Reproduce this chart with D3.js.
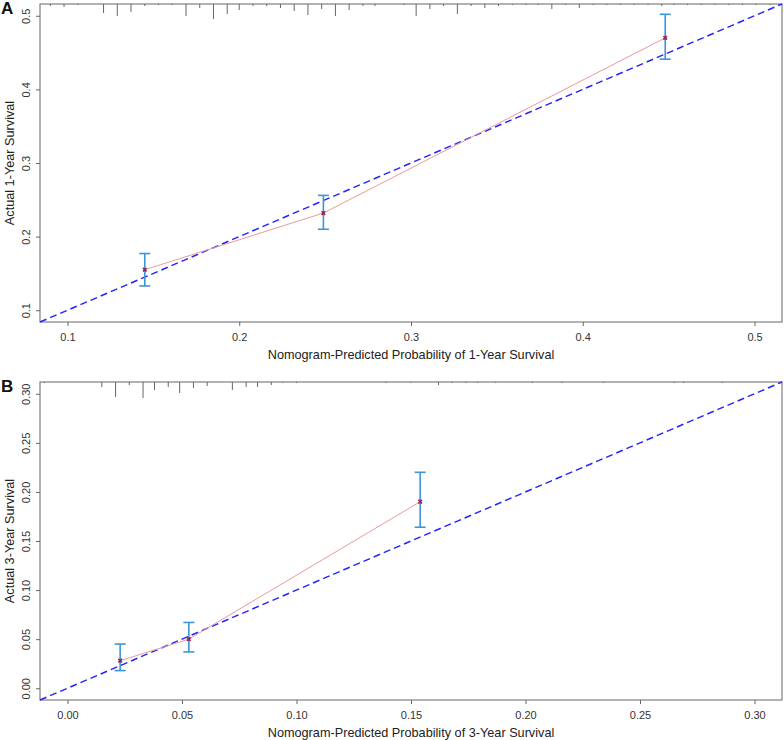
<!DOCTYPE html>
<html>
<head>
<meta charset="utf-8">
<script src="https://cdn.jsdelivr.net/npm/d3@7"></script>
<style>
  body { margin: 0; background: #fff; }
  svg { font-family: "Liberation Sans", Arial, sans-serif; }
</style>
</head>
<body>
<svg id="chart" width="784" height="740"></svg>
<script>
// Panel A: 1-year calibration
const predA = [0.145, 0.249, 0.448];
const obsA = [0.155, 0.232, 0.470];
const lowerA = [0.133, 0.210, 0.441];
const upperA = [0.177, 0.256, 0.502];
const ticksA = [0.1, 0.2, 0.3, 0.4, 0.5];
const limA = [0.1, 0.5];
const rugXA = [0.090, 0.098, 0.106, 0.121, 0.129, 0.137, 0.145, 0.153, 0.161, 0.169, 0.177, 0.185,
  0.193, 0.200, 0.208, 0.216, 0.224, 0.232, 0.240, 0.248, 0.256, 0.264, 0.272, 0.279, 0.296,
  0.303, 0.311, 0.319, 0.327, 0.335, 0.343, 0.351, 0.359, 0.367, 0.374, 0.382, 0.390, 0.398,
  0.406, 0.414, 0.422, 0.430, 0.438, 0.446, 0.453, 0.461, 0.469, 0.477, 0.485, 0.493, 0.501, 0.509];
const rugFreqA = [2, 3, 1, 9, 12, 8, 2, 1, 1, 12, 4, 15,
  10, 6, 2, 2, 4, 7, 11, 5, 12, 6, 2, 2, 1,
  12, 5, 2, 10, 2, 4, 2, 1, 1, 1, 5, 1, 4,
  1, 1, 1, 1, 1, 2, 1, 1, 1, 1, 1, 1, 1, 1];

// Panel B: 3-year calibration
const predB = [0.023, 0.053, 0.154];
const obsB = [0.028, 0.050, 0.190];
const lowerB = [0.018, 0.037, 0.164];
const upperB = [0.045, 0.067, 0.220];
const ticksB = [0.00, 0.05, 0.10, 0.15, 0.20, 0.25, 0.30];
const limB = [0.0, 0.3];
const rugXB = [-0.010, 0.015, 0.021, 0.027, 0.033, 0.038, 0.044, 0.049, 0.055, 0.061, 0.072, 0.078,
  0.083, 0.089, 0.094, 0.100, 0.139, 0.150, 0.162, 0.168, 0.174, 0.179, 0.187, 0.203, 0.216,
  0.234, 0.265, 0.269, 0.286];
const rugFreqB = [1, 5, 15, 3, 16, 8, 5, 11, 6, 4, 8, 5,
  5, 3, 1, 1, 1, 1, 3, 1, 1, 1, 1, 1, 1,
  1, 1, 1, 1];

class CalPlot {

    constructor( config, data ){
	this.config = {
	    parent: config.parent,
	    left: config.left,
	    top: config.top,
	    width: config.width,
	    height: config.height,
	    tag: config.tag,
	    xlabel: config.xlabel,
	    ylabel: config.ylabel,
	    fmt: config.fmt
	}
	this.data = data;
	this.init();
    }

    init() {
	let self = this;

	// R style axis: 4% extension on each side
	let lim = self.data.lim;
	let ext = (lim[1] - lim[0]) * 0.04;
	self.domain = [lim[0] - ext, lim[1] + ext];

	self.g = self.config.parent.append('g')
	    .attr('transform', `translate(${self.config.left}, ${self.config.top})`);

	self.xscale = d3.scaleLinear()
	    .domain(self.domain)
	    .range([0, self.config.width]);

	self.yscale = d3.scaleLinear()
	    .domain(self.domain)
	    .range([self.config.height, 0]);

	self.rugscale = d3.scaleLinear()
	    .domain([0, 16])
	    .range([0, 16]);

	self.xaxis = d3.axisBottom(self.xscale)
	    .tickValues(self.data.ticks)
	    .tickFormat(d3.format(self.config.fmt))
	    .tickSize(4)
	    .tickSizeOuter(0);

	self.yaxis = d3.axisLeft(self.yscale)
	    .tickValues(self.data.ticks)
	    .tickFormat(d3.format(self.config.fmt))
	    .tickSize(4)
	    .tickSizeOuter(0);
    }

    render() {
	let self = this;
	let W = self.config.width, H = self.config.height;

	// x axis
	let xg = self.g.append('g')
	    .attr('transform', `translate(0, ${H})`)
	    .call(self.xaxis);
	xg.select('.domain').remove();
	xg.selectAll('line').attr('stroke', '#666');
	xg.selectAll('text')
	    .attr('y', 19)
	    .attr('dy', 0)
	    .attr('fill', '#333')
	    .attr('font-size', 11)
	    .attr('font-family', '"Liberation Sans", Arial, sans-serif');

	// y axis, labels rotated
	let yg = self.g.append('g')
	    .call(self.yaxis);
	yg.select('.domain').remove();
	yg.selectAll('line').attr('stroke', '#666');
	yg.selectAll('text')
	    .attr('transform', 'rotate(-90)')
	    .attr('x', 0)
	    .attr('y', -10)
	    .attr('dy', 0)
	    .attr('text-anchor', 'middle')
	    .attr('fill', '#333')
	    .attr('font-size', 11)
	    .attr('font-family', '"Liberation Sans", Arial, sans-serif');

	// box
	self.g.append('rect')
	    .attr('width', W)
	    .attr('height', H)
	    .attr('fill', 'none')
	    .attr('stroke', '#666')
	    .attr('stroke-width', 1);

	// rug of predicted risk along top
	self.g.append('g')
	    .selectAll('line')
	    .data(self.data.rugX)
	    .join('line')
	    .attr('x1', d => self.xscale(d))
	    .attr('x2', d => self.xscale(d))
	    .attr('y1', 0)
	    .attr('y2', (d, i) => self.rugscale(self.data.rugFreq[i]))
	    .attr('stroke', '#666')
	    .attr('stroke-width', 1);

	// ideal line
	self.g.append('line')
	    .attr('x1', self.xscale(self.domain[0]))
	    .attr('y1', self.yscale(self.domain[0]))
	    .attr('x2', self.xscale(self.domain[1]))
	    .attr('y2', self.yscale(self.domain[1]))
	    .attr('stroke', '#2424ff')
	    .attr('stroke-width', 1.5)
	    .attr('stroke-dasharray', '7,4');

	let pts = self.data.pred.map((p, i) => ({
	    x: p, y: self.data.obs[i], lo: self.data.lower[i], hi: self.data.upper[i]
	}));

	// observed line
	let line = d3.line()
	    .x(d => self.xscale(d.x))
	    .y(d => self.yscale(d.y));
	self.g.append('path')
	    .attr('d', line(pts))
	    .attr('fill', 'none')
	    .attr('stroke', '#e99a9a')
	    .attr('stroke-width', 1);

	// error bars
	let eb = self.g.append('g')
	    .attr('stroke', '#3b95db')
	    .attr('stroke-width', 1.6);
	eb.selectAll('.v').data(pts).join('line')
	    .attr('x1', d => self.xscale(d.x)).attr('x2', d => self.xscale(d.x))
	    .attr('y1', d => self.yscale(d.lo)).attr('y2', d => self.yscale(d.hi));
	eb.selectAll('.t').data(pts).join('line')
	    .attr('x1', d => self.xscale(d.x) - 5.5).attr('x2', d => self.xscale(d.x) + 5.5)
	    .attr('y1', d => self.yscale(d.hi)).attr('y2', d => self.yscale(d.hi));
	eb.selectAll('.b').data(pts).join('line')
	    .attr('x1', d => self.xscale(d.x) - 5.5).attr('x2', d => self.xscale(d.x) + 5.5)
	    .attr('y1', d => self.yscale(d.lo)).attr('y2', d => self.yscale(d.lo));

	// x markers
	self.g.append('g')
	    .selectAll('path')
	    .data(pts)
	    .join('path')
	    .attr('d', d3.symbol().type(d3.symbolCross).size(14))
	    .attr('transform', d => `translate(${self.xscale(d.x)}, ${self.yscale(d.y)}) rotate(45)`)
	    .attr('fill', '#9a2550');

	// titles
	self.g.append('text')
	    .attr('x', W / 2)
	    .attr('y', H + 37)
	    .attr('text-anchor', 'middle')
	    .attr('font-size', 12.7)
	    .attr('fill', '#222')
	    .text(self.config.xlabel);

	self.g.append('text')
	    .attr('transform', `translate(-26, ${H / 2}) rotate(-90)`)
	    .attr('text-anchor', 'middle')
	    .attr('font-size', 12.7)
	    .attr('fill', '#222')
	    .text(self.config.ylabel);

	self.g.append('text')
	    .attr('x', -39)
	    .attr('y', 10)
	    .attr('font-size', 17)
	    .attr('font-weight', 'bold')
	    .attr('fill', '#111')
	    .text(self.config.tag);
    }
}

const svg = d3.select('#chart');

let plotA = new CalPlot({
    parent: svg, left: 40, top: 4, width: 742, height: 318, tag: 'A', fmt: '.1f',
    xlabel: 'Nomogram-Predicted Probability of 1-Year Survival',
    ylabel: 'Actual 1-Year Survival'
}, { pred: predA, obs: obsA, lower: lowerA, upper: upperA, ticks: ticksA, lim: limA, rugX: rugXA, rugFreq: rugFreqA });
plotA.render();

let plotB = new CalPlot({
    parent: svg, left: 40, top: 382, width: 742, height: 318, tag: 'B', fmt: '.2f',
    xlabel: 'Nomogram-Predicted Probability of 3-Year Survival',
    ylabel: 'Actual 3-Year Survival'
}, { pred: predB, obs: obsB, lower: lowerB, upper: upperB, ticks: ticksB, lim: limB, rugX: rugXB, rugFreq: rugFreqB });
plotB.render();
</script>
</body>
</html>
